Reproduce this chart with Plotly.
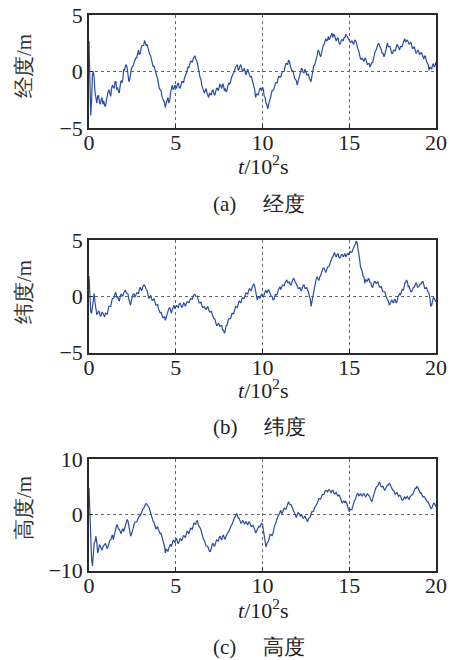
import plotly.graph_objects as go

# time axis, in units of 10^2 s: main samples every 0.1, plus half-step samples
t = [round(i * 0.1, 1) for i in range(201)]
t_mid = [round(i * 0.1 + 0.05, 2) for i in range(200)]

lon = [2.7, -3.9, -0.3, -0.6, -2.4, -2.2, -2.7, -2.5, -2.9, -3.0,
       -2.6, -1.8, -2.1, -1.5, -1.4, -0.9, -1.6, -1.8, -1.2, -1.0,
       0.2, 0.5, 0.3, -0.9, -0.1, 0.4, 0.8, 1.2, 1.7, 1.5,
       2.0, 2.3, 2.75, 2.3, 2.0, 1.5, 1.1, 0.4, 0.1, -0.4,
       -1.2, -1.6, -2.2, -2.6, -3.2, -2.6, -2.8, -1.9, -1.2, -1.5,
       -1.3, -1.1, -1.4, -1.2, -0.9, -0.6, -0.2, 0.4, 0.6, 0.9,
       1.1, 1.4, 1.0, 0.1, -0.5, -1.2, -1.7, -1.6, -1.9, -2.3,
       -2.0, -1.7, -2.0, -1.8, -1.5, -1.4, -1.3, -1.1, -1.7, -1.8,
       -1.3, -1.1, -0.6, -0.2, 0.2, 0.5, 0.1, 0.5, 0.3, 0.1,
       -0.05, 0.0, -0.1, -0.5, -0.7, -1.25, -2.3, -2.0, -1.8, -1.5,
       -1.4, -2.2, -2.8, -3.3, -2.6, -2.0, -1.65, -1.3, -1.0, -0.6,
       -0.5, -0.2, 0.0, 0.4, 0.7, 1.0, 0.5, 0.0, -0.3, -0.7,
       -1.2, -0.4, 0.1, 0.2, -0.1, 0.0, -0.3, -0.6, -0.9, 0.2,
       0.55, 1.2, 1.9, 1.5, 1.6, 2.3, 2.8, 2.7, 3.1, 3.0,
       3.4, 3.3, 2.9, 2.9, 2.6, 2.5, 2.8, 3.0, 3.3, 3.1,
       2.8, 2.6, 2.5, 2.7, 2.6, 2.0, 1.45, 1.1, 1.0, 1.2,
       0.85, 0.7, 0.4, 0.8, 1.15, 1.8, 2.2, 2.5, 2.1, 1.6,
       1.3, 1.9, 2.5, 2.2, 1.9, 1.6, 1.9, 2.1, 2.3, 1.9,
       2.2, 2.5, 2.9, 2.7, 2.6, 2.5, 2.3, 2.1, 1.9, 1.7,
       1.8, 1.6, 1.5, 1.1, 1.3, 0.8, 0.1, 0.3, 0.55, 0.4,
       0.85]
lon_mid = [-1.0, -2.6, 0.0, -1.9, -2.8, -2.1, -2.9, -2.3, -2.6, -3.1,
           -2.0, -1.6, -2.2, -1.2, -1.5, -0.9, -1.4, -1.9, -0.8, -0.7,
           0.1, 0.6, -0.2, -0.7, 0.3, 0.5, 1.0, 1.2, 1.9, 1.6,
           2.3, 2.3, 2.4, 2.4, 1.6, 1.4, 0.6, 0.5, -0.3, -0.6,
           -1.5, -1.7, -2.5, -2.7, -2.8, -2.3, -2.6, -1.4, -1.6, -1.2,
           -1.5, -1.0, -1.5, -0.9, -1.0, -0.3, 0.0, 0.3, 0.9, 0.8,
           1.3, 1.1, 0.7, -0.1, -0.7, -1.6, -1.9, -1.5, -2.2, -1.9,
           -2.1, -1.6, -2.1, -1.5, -1.7, -1.1, -1.5, -1.2, -1.5, -1.7,
           -1.0, -1.0, -0.3, -0.1, 0.4, 0.6, 0.2, 0.6, 0.0, 0.3,
           -0.3, 0.2, -0.4, -0.4, -1.1, -1.6, -2.0, -2.1, -1.5, -1.7,
           -1.6, -2.3, -2.9, -2.8, -2.4, -1.7, -1.6, -1.0, -1.0, -0.4,
           -0.5, 0.0, 0.0, 0.7, 0.6, 0.9, 0.1, 0.1, -0.6, -0.8,
           -0.9, -0.3, 0.3, -0.1, 0.2, -0.3, -0.2, -0.8, -0.4, 0.5,
           0.8, 1.4, 1.8, 1.3, 2.1, 2.4, 2.9, 2.8, 2.8, 3.3,
           3.0, 3.2, 2.7, 3.0, 2.4, 2.8, 2.7, 3.0, 3.2, 3.0,
           2.6, 2.7, 2.4, 2.8, 2.2, 1.8, 1.1, 1.2, 0.9, 1.1,
           0.6, 0.7, 0.6, 0.8, 1.6, 1.9, 2.4, 2.2, 1.9, 1.6,
           1.5, 2.3, 2.2, 2.2, 1.6, 1.9, 1.8, 2.4, 2.0, 2.2,
           2.2, 2.8, 2.6, 2.8, 2.4, 2.6, 2.0, 2.2, 1.6, 1.9,
           1.5, 1.7, 1.2, 1.4, 0.9, 0.6, 0.4, 0.2, 0.7, 0.5]

lat = [1.8, -1.4, -0.95, 0.25, -1.25, -1.55, -1.4, -1.7, -1.5, -1.85,
       -1.6, -1.2, -0.9, -0.5, -0.2, 0.25, -0.1, -0.35, 0.0, 0.1,
       0.3, 0.55, 0.2, -0.3, -0.8, -0.05, 0.2, 0.1, 0.3, 0.55,
       0.6, 0.85, 1.0, 0.6, 0.1, -0.1, -0.2, -0.3, -0.5, -0.8,
       -1.1, -1.5, -1.7, -1.9, -2.15, -1.5, -1.1, -1.4, -1.2, -0.8,
       -1.0, -0.95, -0.7, -0.8, -0.9, -0.65, -0.7, -0.5, -0.4, -0.2,
       0.0, 0.2, 0.0, -0.35, -0.6, -0.8, -1.0, -1.1, -1.0, -1.2,
       -1.4, -1.6, -2.0, -2.3, -2.6, -2.5, -2.6, -3.0, -3.3, -2.6,
       -2.3, -2.0, -1.8, -1.55, -1.2, -0.95, -0.7, -0.5, -0.3, -0.2,
       0.1, 0.25, 0.5, 0.55, 0.8, 1.1, 0.55, -0.35, 0.0, 0.1,
       0.0, 0.2, 0.55, 0.4, 0.4, 0.0, -0.3, 0.0, 0.1, 0.5,
       0.85, 0.8, 1.0, 1.2, 1.45, 1.2, 1.0, 1.3, 1.6, 1.2,
       0.85, 0.7, 0.55, 0.8, 1.0, 0.7, 0.55, 0.0, -0.9, 0.2,
       0.85, 1.6, 1.5, 1.75, 2.1, 2.5, 2.2, 2.35, 2.6, 2.95,
       3.4, 3.85, 3.6, 3.7, 3.5, 3.5, 3.7, 3.65, 3.5, 3.8,
       3.85, 3.9, 4.1, 4.5, 4.9, 4.4, 3.25, 2.4, 1.75, 1.15,
       1.4, 1.6, 1.2, 0.85, 1.1, 1.3, 1.2, 1.0, 0.8, 0.55,
       0.4, 0.1, -0.3, -0.75, -0.4, -0.5, -0.3, -0.6, -0.1, 0.25,
       0.4, 0.55, 1.2, 1.45, 0.85, 0.6, 0.4, 0.8, 1.15, 1.0,
       0.85, 1.1, 1.3, 1.0, 0.7, 0.5, 0.25, -0.9, -0.4, -0.2,
       -0.5]
lat_mid = [0.2, -1.5, -0.2, -0.6, -1.6, -1.3, -1.8, -1.4, -1.8, -1.5,
           -1.6, -0.9, -0.9, -0.2, -0.1, 0.3, 0.0, -0.4, 0.2, 0.0,
           0.5, 0.3, 0.2, -0.7, -0.3, 0.2, -0.1, 0.3, 0.2, 0.8,
           0.5, 1.0, 0.7, 0.5, -0.2, 0.1, -0.4, -0.2, -0.8, -0.7,
           -1.4, -1.4, -1.9, -1.8, -1.9, -1.4, -1.0, -1.5, -0.9, -1.1,
           -0.8, -1.0, -0.6, -1.0, -0.6, -0.9, -0.5, -0.6, -0.2, -0.3,
           0.1, 0.0, 0.0, -0.6, -0.5, -1.0, -0.9, -1.2, -0.9, -1.4,
           -1.3, -1.9, -2.0, -2.6, -2.4, -2.7, -2.6, -3.0, -3.1, -2.6,
           -2.0, -2.0, -1.5, -1.5, -0.9, -1.0, -0.4, -0.6, -0.1, -0.2,
           0.3, 0.2, 0.7, 0.5, 1.0, 0.9, 0.1, -0.1, -0.2, 0.2,
           -0.1, 0.5, 0.3, 0.6, 0.1, 0.0, -0.3, 0.2, 0.2, 0.8,
           0.6, 1.0, 0.9, 1.4, 1.2, 1.3, 1.0, 1.5, 1.3, 1.1,
           0.7, 0.8, 0.5, 1.0, 0.7, 0.8, 0.4, -0.2, -0.5, 0.6,
           1.1, 1.7, 1.4, 1.8, 2.3, 2.5, 2.1, 2.6, 2.7, 3.3,
           3.5, 3.9, 3.5, 3.8, 3.4, 3.7, 3.5, 3.8, 3.6, 3.7,
           4.0, 3.9, 4.4, 4.6, 4.8, 3.9, 2.6, 2.2, 1.7, 1.5,
           1.3, 1.5, 1.2, 0.8, 1.3, 1.1, 1.3, 0.8, 0.9, 0.4,
           0.4, -0.2, -0.4, -0.7, -0.3, -0.6, -0.3, -0.5, 0.2, 0.1,
           0.6, 0.7, 1.2, 1.3, 0.9, 0.4, 0.7, 0.8, 1.2, 0.8,
           1.0, 1.1, 1.3, 0.7, 0.8, 0.3, -0.2, -0.8, -0.1, -0.4]

alt = [4.8, -6.0, -9.2, -5.0, -3.85, -6.85, -5.35, -6.25, -5.8, -5.3,
       -5.9, -5.65, -4.6, -3.85, -4.45, -2.6, -1.75, -2.6, -3.25, -2.8,
       -3.0, -1.6, -0.85, -2.05, -3.85, -2.6, -1.75, -1.3, -0.85, -0.2,
       0.35, 1.0, 1.55, 2.0, 1.55, 0.8, 0.05, -1.2, -2.05, -2.4,
       -2.65, -3.4, -3.85, -5.0, -6.85, -6.3, -5.95, -5.3, -5.05, -4.7,
       -4.45, -4.9, -4.75, -4.4, -4.15, -3.9, -3.55, -3.1, -2.95, -2.5,
       -2.05, -1.6, -1.15, -1.8, -2.35, -3.5, -4.45, -5.2, -5.65, -6.2,
       -6.55, -5.35, -5.6, -5.05, -4.6, -4.15, -4.3, -3.85, -4.2, -3.85,
       -3.2, -2.65, -1.9, -1.15, -0.4, 0.25, -0.6, -1.15, -1.45, -1.2,
       -1.45, -1.6, -1.3, -1.75, -2.05, -2.3, -3.25, -2.6, -2.05, -1.8,
       -1.75, -4.0, -5.75, -5.0, -4.0, -3.6, -3.35, -2.0, -0.95, -0.2,
       0.55, 0.3, 0.85, 1.0, 1.45, 2.35, 1.8, 1.45, 0.6, -0.35,
       0.0, 0.25, -0.3, -0.35, -0.5, -0.65, -1.25, -0.6, 0.2, 0.55,
       1.2, 1.75, 2.65, 2.9, 3.25, 3.6, 4.15, 4.3, 4.45, 4.2,
       4.3, 4.0, 3.85, 3.6, 3.55, 2.9, 2.05, 2.5, 2.35, 1.5,
       0.55, 1.0, 1.45, 2.6, 3.25, 3.85, 3.5, 3.55, 3.7, 3.4,
       3.55, 3.5, 3.0, 2.35, 3.3, 4.45, 5.0, 5.65, 5.3, 5.05,
       4.6, 4.75, 5.3, 5.65, 5.0, 4.45, 4.0, 3.85, 3.6, 3.5,
       2.9, 2.65, 3.25, 3.1, 2.95, 3.2, 3.55, 4.0, 4.75, 5.05,
       4.4, 3.85, 3.5, 3.25, 2.8, 2.35, 1.8, 1.15, 1.6, 2.05,
       1.45]
alt_mid = [0.5, -8.0, -7.5, -4.8, -5.0, -6.3, -5.6, -6.4, -5.5, -5.2,
           -6.1, -5.0, -4.5, -3.6, -3.7, -2.5, -2.0, -2.6, -3.4, -2.5,
           -2.5, -1.5, -1.2, -2.6, -3.4, -2.4, -1.3, -1.3, -0.3, -0.2,
           0.8, 1.1, 1.9, 1.6, 1.4, 0.2, -0.7, -1.4, -2.5, -2.1,
           -3.2, -3.3, -4.7, -5.6, -6.2, -6.6, -5.4, -5.7, -4.6, -5.0,
           -4.3, -5.2, -4.3, -4.7, -3.7, -4.1, -3.0, -3.4, -2.4, -2.6,
           -1.5, -1.7, -1.1, -2.3, -2.7, -4.2, -4.6, -5.6, -5.7, -6.6,
           -5.7, -5.1, -5.6, -4.5, -4.7, -3.8, -4.5, -3.6, -4.4, -3.3,
           -3.1, -2.0, -1.7, -0.6, -0.3, 0.0, -0.6, -1.5, -1.0, -1.6,
           -1.2, -1.8, -1.3, -2.1, -1.9, -2.6, -3.1, -2.1, -2.2, -1.5,
           -2.9, -4.9, -5.2, -4.7, -3.5, -3.8, -2.5, -1.6, -0.4, 0.0,
           0.8, 0.3, 1.2, 1.0, 2.0, 1.9, 1.8, 0.8, 0.3, -0.5,
           0.4, -0.2, 0.1, -0.7, -0.2, -1.1, -0.7, -0.4, 0.6, 0.7,
           1.6, 2.0, 2.9, 2.8, 3.6, 3.7, 4.4, 4.1, 4.5, 3.9,
           4.4, 3.7, 4.0, 3.3, 3.4, 2.3, 2.4, 2.1, 2.1, 0.8,
           1.0, 0.9, 2.1, 2.7, 3.7, 3.4, 3.8, 3.3, 3.8, 3.2,
           3.8, 3.4, 2.5, 2.9, 3.7, 4.9, 5.2, 5.8, 5.0, 5.1,
           4.4, 5.2, 5.3, 5.5, 4.5, 4.4, 3.7, 4.0, 3.3, 3.4,
           2.6, 3.1, 2.9, 3.3, 2.8, 3.5, 3.6, 4.5, 4.7, 4.9,
           4.0, 3.9, 3.2, 3.2, 2.4, 2.3, 1.3, 1.1, 2.0, 1.6]

x_ticks = [0, 5, 10, 15, 20]
y_ticks_small = [-5, 0, 5]
y_ticks_alt = [-10, 0, 10]

y_titles = ["经度/m", "纬度/m", "高度/m"]
captions = ["(a)\u2003 经度", "(b)\u2003 纬度", "(c)\u2003 高度"]
x_title = "<i>t</i>/10<sup>2</sup>s"


def merge(main, mid):
    xs, ys = [], []
    for i in range(len(mid)):
        xs += [t[i], t_mid[i]]
        ys += [main[i], mid[i]]
    xs.append(t[-1])
    ys.append(main[-1])
    return xs, ys


W, H = 452, 660
def px(x):
    return x / W
def py(y):
    return 1 - y / H

# pixel geometry of each panel: (top, bottom, xtitle_y, caption_y, ytitle_y)
panels = [
    (15, 128, 165, 204, 66),
    (240, 352.5, 389, 427, 292),
    (459, 570.5, 609, 647, 508),
]
series = [merge(lon, lon_mid), merge(lat, lat_mid), merge(alt, alt_mid)]
yranges = [[-5, 5], [-5, 5], [-10, 10]]
yticks = [y_ticks_small, y_ticks_small, y_ticks_alt]

LINE = "#2b4c9e"
FRAME = "#2a2a2a"
SERIF = "Liberation Serif"
CJK = "Liberation Serif"

fig = go.Figure()
annotations = []
for i, (top, bot, xt_y, cap_y, yt_y) in enumerate(panels):
    n = i + 1
    xa = "x" if n == 1 else f"x{n}"
    ya = "y" if n == 1 else f"y{n}"
    xs, ys = series[i]
    fig.add_trace(go.Scatter(x=xs, y=ys, mode="lines",
                             line=dict(color=LINE, width=1.2),
                             xaxis=xa, yaxis=ya, showlegend=False,
                             hoverinfo="skip"))
    axkey = "xaxis" if n == 1 else f"xaxis{n}"
    aykey = "yaxis" if n == 1 else f"yaxis{n}"
    common = dict(ticks="inside", ticklen=4, tickcolor=FRAME, showline=True,
                  linecolor=FRAME, linewidth=1.5, mirror=True, showgrid=True,
                  gridcolor="#666666", griddash="dot", gridwidth=1,
                  zeroline=False, automargin=False,
                  tickfont=dict(family=SERIF, size=22, color="#222222"))
    fig.update_layout(**{
        axkey: dict(domain=[px(89), px(436)], anchor=ya, range=[0, 20],
                    tickvals=x_ticks, ticklabelstandoff=-6, **common),
        aykey: dict(domain=[py(bot), py(top)], anchor=xa, range=yranges[i],
                    tickvals=yticks[i], **common),
    })
    annotations.append(dict(text=y_titles[i], x=px(24), y=py(yt_y),
                            xref="paper", yref="paper", showarrow=False,
                            textangle=-90, xanchor="center", yanchor="middle",
                            font=dict(family=CJK, size=21, color="#333333")))
    annotations.append(dict(text=x_title, x=px(263), y=py(xt_y),
                            xref="paper", yref="paper", showarrow=False,
                            xanchor="center", yanchor="middle",
                            font=dict(family=SERIF, size=22, color="#222222")))
    annotations.append(dict(text=captions[i], x=px(259), y=py(cap_y),
                            xref="paper", yref="paper", showarrow=False,
                            xanchor="center", yanchor="middle",
                            font=dict(family=CJK, size=21, color="#222222")))

fig.update_layout(width=W, height=H,
                  margin=dict(l=0, r=0, t=0, b=0, pad=0, autoexpand=False),
                  paper_bgcolor="white", plot_bgcolor="white",
                  annotations=annotations)

fig.write_html("out.html", config={"displayModeBar": False},
               post_script="document.body.style.margin='0';"
                           "document.body.style.padding='0';")
